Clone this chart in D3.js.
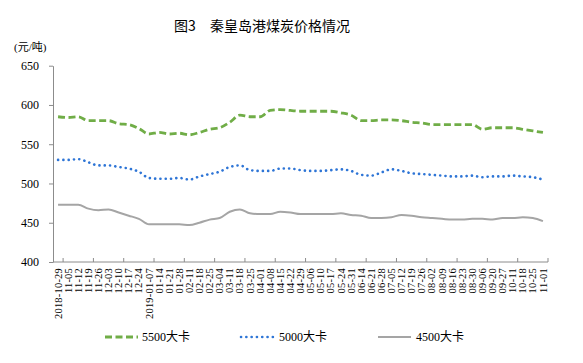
<!DOCTYPE html>
<html>
<head>
<meta charset="utf-8">
<script src="https://cdn.jsdelivr.net/npm/d3@7"></script>
<style>
  body { margin: 0; background: #fff; }
  svg { display: block; }
  .axis text { font-family: "Liberation Serif", serif; fill: #000; }
  .axis path, .axis line { stroke: #8c8c8c; }
</style>
</head>
<body>
<div id="chart"></div>
<script>
const dates = ["2018-10-29","11-05","11-12","11-19","11-26","12-03","12-10","12-17","12-24",
  "2019-01-07","01-14","01-21","01-28","02-11","02-18","02-25","03-04","03-11","03-18","03-25",
  "04-01","04-08","04-15","04-22","04-29","05-06","05-10","05-17","05-24","05-31","06-14","06-21",
  "06-28","07-05","07-12","07-19","07-26","08-02","08-09","08-16","08-23","08-30","09-06","09-20",
  "09-27","10-11","10-18","10-25","11-01"];

const price5500 = [585,584,585,580,580,580,576,575,570,563,565,563,564,562,565,569,571,578,587,585,585,593,594,593,592,
  592,592,592,590,587,580,580,581,581,580,578,577,575,575,575,575,575,569,571,571,571,569,567,565];
const price5000 = [530,530,531,527,523,523,521,519,515,507,506,506,507,505,509,512,515,521,523,517,516,516,519,519,517,
  516,516,517,518,516,511,510,514,518,516,513,512,511,510,509,509,510,508,509,509,510,509,508,505];
const price4500 = [473,473,473,468,466,467,463,459,455,448,448,448,448,447,450,454,456,464,467,462,461,461,464,463,461,
  461,461,461,462,460,459,456,456,457,460,459,457,456,455,454,454,455,455,454,456,456,457,456,452];

const seriesNames = ["5500大卡", "5000大卡", "4500大卡"];
const yTicks = [400, 450, 500, 550, 600, 650];

const width = 583;
const height = 363;
const plotLeft = 53, plotRight = 548, plotTop = 65.7, plotBottom = 262;

const svg = d3.select('#chart')
  .append('svg')
  .attr('width', width)
  .attr('height', height);

//Title
svg.append('text')
  .attr('x', 262)
  .attr('y', 31)
  .attr('text-anchor', 'middle')
  .style('font-family', '"Noto Sans CJK SC", sans-serif')
  .style('font-size', '14px')
  .text('图3　秦皇岛港煤炭价格情况');

svg.append('text')
  .attr('x', 14)
  .attr('y', 51)
  .style('font-family', '"Liberation Serif", "Noto Sans CJK SC", serif')
  .style('font-size', '11px')
  .text('(元/吨)');

//Scales
const x = d3.scaleBand()
  .domain(dates)
  .range([plotLeft, plotRight]);

const y = d3.scaleLinear()
  .domain([400, 650])
  .range([plotBottom, plotTop]);

//Y axis
svg.append('g')
  .attr('class', 'axis')
  .attr('transform', `translate(${plotLeft},0)`)
  .call(d3.axisLeft(y).tickValues(yTicks).tickSize(4).tickSizeOuter(0).tickPadding(10))
  .call(g => g.selectAll('text').style('font-size', '12px'));

//X axis, ticks every 3 categories counted from the right end
const xAxis = svg.append('g')
  .attr('class', 'axis')
  .attr('transform', `translate(0,${plotBottom})`);

xAxis.append('line')
  .attr('x1', plotLeft).attr('x2', plotRight)
  .attr('y1', 0).attr('y2', 0);

xAxis.selectAll('.xtick')
  .data(dates.filter((d, i) => (dates.length - 1 - i) % 3 === 0))
  .enter().append('line')
  .attr('class', 'xtick')
  .attr('x1', d => x(d) + x.bandwidth())
  .attr('x2', d => x(d) + x.bandwidth())
  .attr('y1', 0).attr('y2', -4);

xAxis.selectAll('.xlabel')
  .data(dates)
  .enter().append('text')
  .attr('class', 'xlabel')
  .attr('text-anchor', 'end')
  .attr('transform', d => `translate(${x(d) + x.bandwidth() / 2 + 3.6},6) rotate(-90)`)
  .style('font-size', '10.5px')
  .style('letter-spacing', '0.2px')
  .text(d => d);

//Lines
const styles = [
  { color: '#70ad47', width: 2.8, dash: '7,3.5', cap: 'butt' },
  { color: '#2e75d6', width: 2.6, dash: '0.1,5.2', cap: 'round' },
  { color: '#a5a5a5', width: 2, dash: null, cap: 'butt' }
];
const allSeries = [price5500, price5000, price4500];

const line = d3.line()
  .x((d, i) => x(dates[i]) + x.bandwidth() / 2)
  .y(d => y(d))
  .curve(d3.curveMonotoneX);

svg.selectAll('.series')
  .data(allSeries)
  .enter().append('path')
  .attr('class', 'series')
  .attr('d', d => line(d))
  .attr('fill', 'none')
  .attr('stroke', (d, i) => styles[i].color)
  .attr('stroke-width', (d, i) => styles[i].width)
  .attr('stroke-dasharray', (d, i) => styles[i].dash)
  .attr('stroke-linecap', (d, i) => styles[i].cap);

//Legend
const legendX = [105, 241, 378];
const legend = svg.selectAll('.legend')
  .data(seriesNames)
  .enter().append('g')
  .attr('class', 'legend')
  .attr('transform', (d, i) => `translate(${legendX[i]},337)`);

legend.append('line')
  .attr('x1', 0).attr('x2', 33)
  .attr('y1', 0).attr('y2', 0)
  .attr('stroke', (d, i) => styles[i].color)
  .attr('stroke-width', (d, i) => styles[i].width)
  .attr('stroke-dasharray', (d, i) => styles[i].dash)
  .attr('stroke-linecap', (d, i) => styles[i].cap);

legend.append('text')
  .attr('x', (d, i) => i === 0 ? 37 : 38)
  .attr('y', 4)
  .style('font-family', '"Liberation Serif", "Noto Sans CJK SC", serif')
  .style('font-size', '12px')
  .text(d => d);
</script>
</body>
</html>
